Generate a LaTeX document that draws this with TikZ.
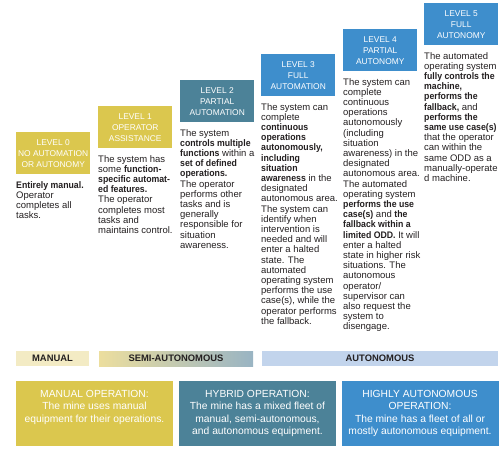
\documentclass[tikz,border=0pt]{standalone}
\usepackage{fontspec}
\setmainfont{Liberation Sans}[BoldFeatures={FakeStretch=0.92}]
\newfontfamily\barfam{Liberation Sans}
\definecolor{yellowc}{RGB}{219,199,78}
\definecolor{tealc}{RGB}{76,130,152}
\definecolor{bluec}{RGB}{62,142,204}
\definecolor{manbar}{RGB}{243,235,196}
\definecolor{semiL}{RGB}{236,222,158}
\definecolor{semiR}{RGB}{153,180,195}
\definecolor{autobar}{RGB}{194,212,236}
\definecolor{txtc}{RGB}{35,31,32}
\newcommand\myhdrfont{\fontsize{8.4}{11}\selectfont}
\newcommand\mybodyfont{\fontsize{9.5}{10.2}\selectfont}
\newcommand\mybarfont{\barfam\fontsize{9.4}{11}\selectfont\bfseries}
\newcommand\myopfont{\fontsize{10.3}{12.4}\selectfont}
\begin{document}
\begin{tikzpicture}[x=1pt,y=-1pt,
  hdr/.style={inner sep=0pt, minimum width=74pt, minimum height=42pt, align=center, text=white, font=\myhdrfont, anchor=north west},
  body/.style={inner sep=0pt, anchor=north west, align=left, text=txtc, font=\mybodyfont},
  barbox/.style={inner sep=0pt, minimum height=15pt, text=txtc, font=\mybarfont},
  opbox/.style={inner sep=0pt, minimum width=157pt, minimum height=65pt},
  optext/.style={inner sep=0pt, anchor=north, align=center, text=white, font=\myopfont}]
\useasboundingbox (0,0) rectangle (503,457);
% level headers
\node[hdr, fill=yellowc] (h0) at (16,132) {LEVEL 0\\NO AUTOMATION\\OR AUTONOMY};
\node[hdr, fill=yellowc] (h1) at (98,106) {LEVEL 1\\OPERATOR\\ASSISTANCE};
\node[hdr, fill=tealc] (h2) at (180,80) {LEVEL 2\\PARTIAL\\AUTOMATION};
\node[hdr, fill=bluec] (h3) at (261,54) {LEVEL 3\\FULL\\AUTOMATION};
\node[hdr, fill=bluec] (h4) at (343,29) {LEVEL 4\\PARTIAL\\AUTONOMY};
\node[hdr, fill=bluec] (h5) at (424,3) {LEVEL 5\\FULL\\AUTONOMY};
% descriptions
\node[body] (t0) at (16,181) {\textbf{Entirely manual.}\\Operator\\completes all\\tasks.};
\node[body] (t1) at (98,155) {The system has\\some \textbf{function-}\\\textbf{specific automat-}\\\textbf{ed features.}\\The operator\\completes most\\tasks and\\maintains control.};
\node[body] (t2) at (180,129) {The system\\\textbf{controls multiple}\\\textbf{functions} within a\\\textbf{set of defined}\\\textbf{operations.}\\The operator\\performs other\\tasks and is\\generally\\responsible for\\situation\\awareness.};
\node[body] (t3) at (261,103) {The system can\\complete\\\textbf{continuous}\\\textbf{operations}\\\textbf{autonomously,}\\\textbf{including}\\\textbf{situation}\\\textbf{awareness} in the\\designated\\autonomous area.\\The system can\\identify when\\intervention is\\needed and will\\enter a halted\\state. The\\automated\\operating system\\performs the use\\case(s), while the\\operator performs\\the fallback.};
\node[body] (t4) at (343,78) {The system can\\complete\\continuous\\operations\\autonomously\\(including\\situation\\awareness) in the\\designated\\autonomous area.\\The automated\\operating system\\\textbf{performs the use}\\\textbf{case(s)} and \textbf{the}\\\textbf{fallback within a}\\\textbf{limited ODD.} It will\\enter a halted\\state in higher risk\\situations. The\\autonomous\\operator/\\supervisor can\\also request the\\system to\\disengage.};
\node[body] (t5) at (424,52) {The automated\\operating system\\\textbf{fully controls the}\\\textbf{machine,}\\\textbf{performs the}\\\textbf{fallback,} and\\\textbf{performs the}\\\textbf{same use case(s)}\\that the operator\\can within the\\same ODD as a\\manually-operate\\d machine.};
% category bars
\node[barbox, fill=manbar, minimum width=73pt] (bman) at (52.5,358.5) {MANUAL};
\node[barbox, left color=semiL, right color=semiR, minimum width=154pt] (bsemi) at (176,358.5) {SEMI-AUTONOMOUS};
\node[barbox, fill=autobar, minimum width=236pt] (bauto) at (380,358.5) {AUTONOMOUS};
% operation boxes
\node[opbox, fill=yellowc] (omanual) at (94.5,413.5) {};
\node[opbox, fill=tealc] (ohybrid) at (257.5,413.5) {};
\node[opbox, fill=bluec] (ohigh) at (420,413.5) {};
\node[optext] (lmanual) at (94.5,390) {MANUAL OPERATION:\\The mine uses manual\\equipment for their operations.};
\node[optext] (lhybrid) at (257.5,390) {HYBRID OPERATION:\\The mine has a mixed fleet of\\manual, semi-autonomous,\\and autonomous equipment.};
\node[optext] (lhigh) at (420,390) {HIGHLY AUTONOMOUS\\OPERATION:\\The mine has a fleet of all or\\mostly autonomous equipment.};
\end{tikzpicture}
\end{document}
